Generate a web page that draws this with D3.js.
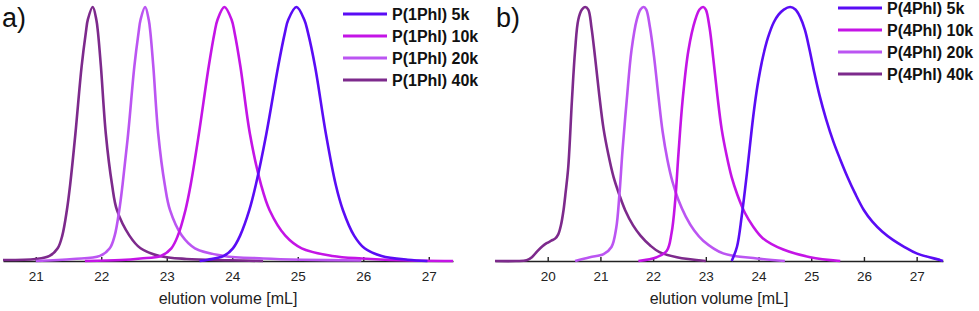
<!DOCTYPE html>
<html>
<head>
<meta charset="utf-8">
<script src="https://d3js.org/d3.v7.min.js"></script>
<style>
  body { margin: 0; background: #fff; }
  text { font-family: "Liberation Sans", Arial, sans-serif; }
</style>
</head>
<body>
<script>
// series colours and names
var colors = ["#5a0cf5", "#c414e6", "#bb55f2", "#7d2a8c"];
var namesA = ["P(1Phl) 5k", "P(1Phl) 10k", "P(1Phl) 20k", "P(1Phl) 40k"];
var namesB = ["P(4Phl) 5k", "P(4Phl) 10k", "P(4Phl) 20k", "P(4Phl) 40k"];
var ticksA = [21, 22, 23, 24, 25, 26, 27];
var ticksB = [20, 21, 22, 23, 24, 25, 26, 27];

// panel a: [elution volume, normalised signal]
var a5k = [[23.5,0],[23.63,0.005],[23.87,0.02],[24.01,0.05],[24.12,0.10],[24.26,0.20],[24.36,0.30],[24.52,0.50],[24.70,0.765],[24.805,0.90],[24.855,0.95],[24.98,1.0],[25.10,0.95],[25.155,0.90],[25.265,0.765],[25.43,0.50],[25.58,0.30],[25.69,0.20],[25.86,0.10],[26.02,0.05],[26.28,0.02],[26.68,0.005],[26.98,0]];
var a10k = [[21.75,0],[22.3,0.004],[22.6,0.01],[22.91,0.02],[23.07,0.05],[23.17,0.10],[23.285,0.20],[23.365,0.30],[23.49,0.50],[23.64,0.765],[23.73,0.90],[23.775,0.95],[23.88,1.0],[23.99,0.95],[24.035,0.90],[24.125,0.765],[24.27,0.50],[24.44,0.30],[24.57,0.20],[24.81,0.10],[25.06,0.05],[25.53,0.02],[25.98,0.01],[26.58,0.003],[27.37,0]];
var a20k = [[21.0,0],[21.57,0.008],[21.98,0.02],[22.13,0.05],[22.205,0.10],[22.275,0.20],[22.325,0.30],[22.41,0.50],[22.505,0.765],[22.57,0.90],[22.60,0.95],[22.67,1.0],[22.725,0.95],[22.75,0.90],[22.795,0.765],[22.87,0.50],[22.97,0.30],[23.05,0.20],[23.23,0.10],[23.43,0.05],[23.87,0.02],[24.47,0.01],[25.07,0.005],[25.97,0.002]];
var a40k = [[20.5,0.004],[21.0,0.008],[21.21,0.02],[21.335,0.05],[21.405,0.10],[21.475,0.20],[21.525,0.30],[21.605,0.50],[21.70,0.765],[21.765,0.90],[21.795,0.95],[21.87,1.0],[21.925,0.95],[21.95,0.90],[21.995,0.765],[22.07,0.50],[22.165,0.30],[22.24,0.20],[22.43,0.10],[22.60,0.05],[22.89,0.02],[23.30,0.008],[23.97,0.003],[24.47,0]];

// panel b
var b5k = [[23.49,0],[23.59,0.055],[23.68,0.175],[23.78,0.346],[23.90,0.57],[23.98,0.69],[24.08,0.80],[24.18,0.88],[24.29,0.94],[24.38,0.97],[24.48,0.99],[24.60,1.0],[24.70,0.99],[24.79,0.96],[24.88,0.91],[24.97,0.83],[25.06,0.74],[25.16,0.65],[25.28,0.56],[25.42,0.47],[25.55,0.40],[25.69,0.33],[25.83,0.267],[26.0,0.20],[26.16,0.155],[26.35,0.115],[26.55,0.083],[26.77,0.055],[27.0,0.03],[27.44,0.004],[27.5,0]];
var b10k = [[21.72,0],[22.07,0.015],[22.26,0.04],[22.35,0.11],[22.42,0.24],[22.48,0.42],[22.56,0.634],[22.67,0.83],[22.80,0.95],[22.88,0.99],[22.95,1.0],[23.00,0.99],[23.07,0.92],[23.14,0.80],[23.22,0.65],[23.30,0.52],[23.39,0.42],[23.49,0.33],[23.60,0.26],[23.74,0.19],[23.90,0.135],[24.08,0.09],[24.47,0.045],[24.98,0.015],[25.55,0]];
var b20k = [[20.52,0],[20.80,0.015],[21.06,0.027],[21.21,0.055],[21.30,0.13],[21.36,0.26],[21.42,0.437],[21.50,0.634],[21.59,0.83],[21.69,0.95],[21.76,0.99],[21.82,1.0],[21.87,0.99],[21.94,0.92],[22.02,0.80],[22.10,0.65],[22.18,0.51],[22.27,0.40],[22.37,0.31],[22.48,0.24],[22.62,0.175],[22.78,0.12],[22.95,0.08],[23.33,0.03],[23.97,0.01],[24.5,0]];
var b40k = [[19.0,0],[19.4,0],[19.6,0.003],[19.7,0.015],[19.8,0.038],[19.9,0.058],[19.98,0.07],[20.07,0.08],[20.14,0.088],[20.2,0.105],[20.25,0.14],[20.30,0.20],[20.34,0.27],[20.39,0.37],[20.46,0.634],[20.52,0.83],[20.58,0.95],[20.65,0.99],[20.71,1.0],[20.77,0.99],[20.83,0.92],[20.90,0.80],[20.98,0.65],[21.06,0.52],[21.15,0.42],[21.25,0.33],[21.36,0.26],[21.47,0.20],[21.62,0.14],[21.76,0.10],[21.95,0.06],[22.12,0.035],[22.45,0.015],[23.0,0]];

var svg = d3.select("body").append("svg")
    .attr("width", 979)
    .attr("height", 311);

function panel(opt) {
    var x = d3.scaleLinear().domain(opt.domain).range(opt.range);
    var y = d3.scaleLinear().domain([0, 1]).range([261, 7]);
    var g = svg.append("g");

    // axis along the bottom, ticks pointing up
    var axis = d3.axisBottom(x).tickValues(opt.ticks).tickFormat(d3.format("d"))
        .tickSizeInner(-4).tickSizeOuter(0).tickPadding(10);
    var ag = g.append("g").attr("transform", "translate(0,261)").call(axis);
    ag.select(".domain").attr("stroke", "#222").attr("stroke-width", 1.6);
    ag.selectAll(".tick line").attr("stroke", "#222").attr("stroke-width", 1.4);
    ag.selectAll(".tick text").attr("font-size", 13.5).attr("fill", "#222")
        .attr("font-family", "'Liberation Sans', Arial, sans-serif");

    g.append("text")
        .attr("x", (opt.range[0] + opt.range[1]) / 2)
        .attr("y", 304)
        .attr("text-anchor", "middle")
        .attr("font-size", 16)
        .attr("fill", "#222")
        .text("elution volume [mL]");

    var line = d3.line()
        .x(function(d) { return x(d[0]); })
        .y(function(d) { return y(d[1]); })
        .curve(d3.curveCatmullRom.alpha(0.5));

    // draw 40k first so 5k sits on top
    [3, 2, 1, 0].forEach(function(i) {
        g.append("path")
            .datum(opt.series[i])
            .attr("fill", "none")
            .attr("stroke", colors[i])
            .attr("stroke-width", 2.6)
            .attr("stroke-linejoin", "round")
            .attr("d", line);
    });

    g.append("text")
        .attr("x", opt.labelX)
        .attr("y", 27)
        .attr("font-size", 27)
        .attr("fill", "#111")
        .text(opt.label);

    var leg = g.selectAll(".leg")
        .data(opt.names)
        .enter().append("g")
        .attr("transform", function(d, i) { return "translate(" + opt.legX + "," + (opt.legY + i * 22) + ")"; });
    leg.append("line")
        .attr("x1", 0).attr("x2", 44)
        .attr("stroke", function(d, i) { return colors[i]; })
        .attr("stroke-width", 3);
    leg.append("text")
        .attr("x", 49)
        .attr("dy", "0.36em")
        .attr("font-size", 16)
        .attr("font-weight", "bold")
        .attr("fill", "#111")
        .text(function(d) { return d; });
}

panel({
    domain: [20.5, 27.37], range: [3, 453], ticks: ticksA,
    series: [a5k, a10k, a20k, a40k], names: namesA,
    label: "a)", labelX: 2, legX: 343, legY: 14
});
panel({
    domain: [19, 27.5], range: [495, 943], ticks: ticksB,
    series: [b5k, b10k, b20k, b40k], names: namesB,
    label: "b)", labelX: 496, legX: 838, legY: 8
});
</script>
</body>
</html>
